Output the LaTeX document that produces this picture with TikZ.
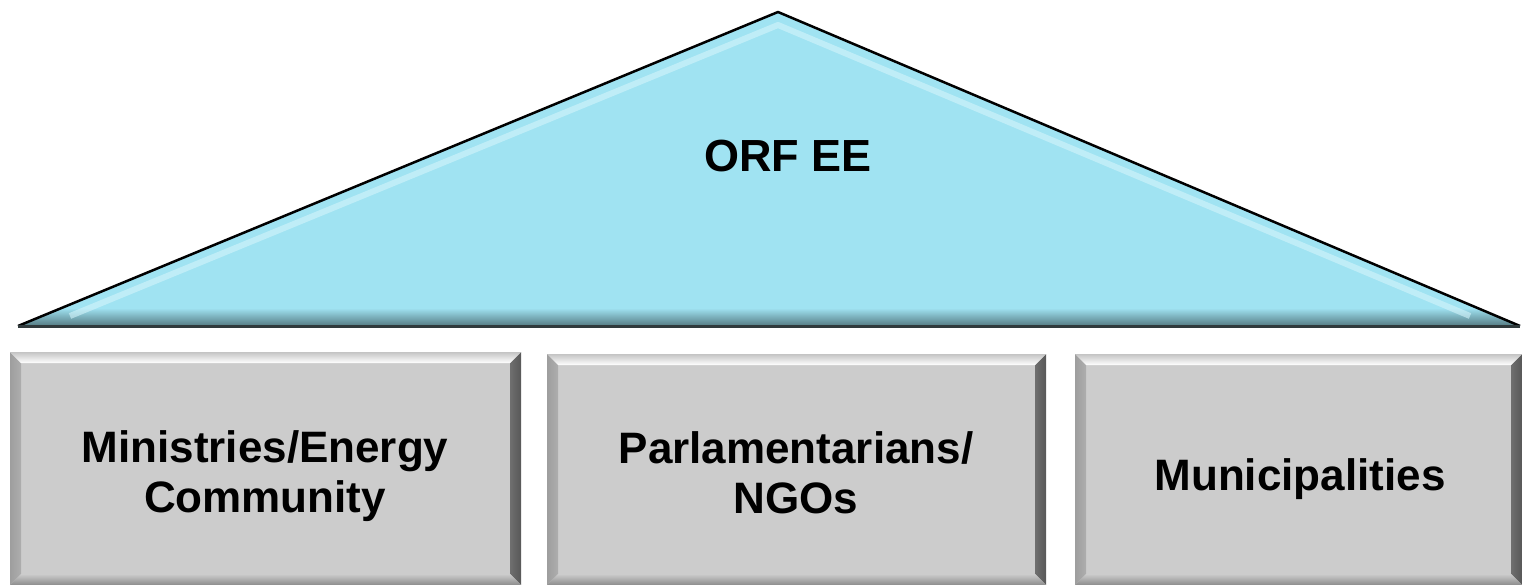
\documentclass[tikz,border=0pt]{standalone}
\usepackage{fontspec}
\setmainfont{Liberation Sans}
\usepackage{tikz}
\usetikzlibrary{calc}
\definecolor{sky}{RGB}{160, 227, 242}
\definecolor{skyhi}{RGB}{212, 244, 251}
\definecolor{rim}{RGB}{84, 122, 130}
\definecolor{rimdark}{RGB}{48, 58, 60}
\definecolor{face}{RGB}{204, 204, 204}
\definecolor{bevlite}{RGB}{196, 196, 196}
\definecolor{bevmid}{RGB}{158, 158, 158}
\definecolor{bevdark}{RGB}{88, 88, 88}
\definecolor{bevlow}{RGB}{140, 140, 140}

% bevelled grey block, corners (x1,y1) and (x2,y2) in pixels
\newcommand{\bevelbox}[4]{%
  \fill[face] (#1, #2) rectangle (#3, #4);
  \shade[left color=bevmid, right color=face!85!black] (#1, #2) -- (#1+11, #2+11) -- (#1+11, #4-11) -- (#1, #4) -- cycle;
  \shade[left color=bevmid!70!black, right color=bevdark] (#3, #2) -- (#3-11, #2+11) -- (#3-11, #4-11) -- (#3, #4) -- cycle;
  \shade[top color=face, bottom color=bevlow] (#1, #4) -- (#1+11, #4-11) -- (#3-11, #4-11) -- (#3, #4) -- cycle;
  \shade[top color=bevlite, bottom color=white] (#1, #2) -- (#3, #2) -- (#3-11, #2+11) -- (#1+11, #2+11) -- cycle;
}

\begin{document}
\begin{tikzpicture}[x=1pt, y=-1pt, thick,
    label/.style={font=\bfseries\fontsize{44}{50}\selectfont, align=center, inner sep=0pt}]
  \useasboundingbox (0, 0) rectangle (1522, 585);

  % roof
  \coordinate (apex) at (778, 12);
  \coordinate (lt) at (18, 326);
  \coordinate (rt) at (1520, 326);
  \fill[sky] (lt) -- (apex) -- (rt) -- cycle;
  \shade[top color=sky, bottom color=rim] (62, 308) -- (1477, 308) -- (rt) -- (lt) -- cycle;
  \draw[skyhi, line width=6pt, opacity=0.6, line join=round] (70, 316) -- (778, 25) -- (1470, 316);
  \draw[black, line width=2.5pt, line join=round] (lt) -- (apex) -- (rt);
  \draw[rimdark, line width=3pt] (lt) -- (rt);
  \node[label, font=\bfseries\fontsize{45}{50}\selectfont] (orf) at (788, 156) {ORF EE};

  % pillars
  \bevelbox{10}{352}{521}{585}
  \bevelbox{547}{354}{1046}{585}
  \bevelbox{1075}{354}{1522}{585}
  \node[label] (min) at (265, 476) {Ministries/Energy\\Community};
  \node[label] (parl) at (796, 473) {Parlamentarians/\\NGOs};
  \node[label] (mun) at (1300, 479) {Municipalities};
\end{tikzpicture}
\end{document}
